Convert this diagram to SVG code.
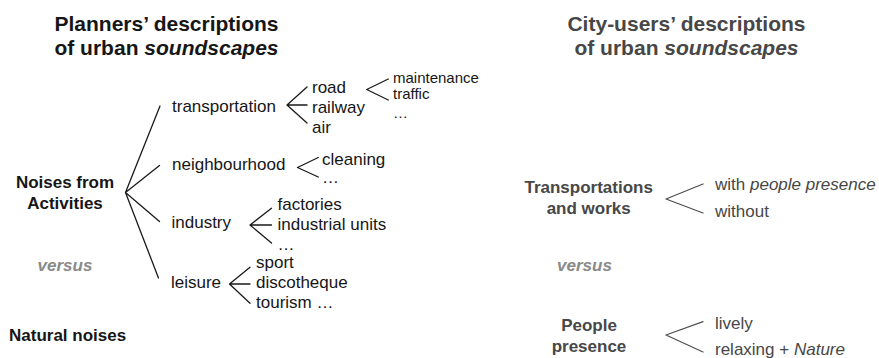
<svg xmlns="http://www.w3.org/2000/svg" width="879" height="358" viewBox="0 0 879 358">
<style>
text{font-family:"Liberation Sans",Arial,Helvetica,sans-serif;font-size:17px;fill:#161616}
.title{font-size:21px;font-weight:bold}
.b{font-weight:bold}
.sm{font-size:15px}
.vs{font-weight:bold;font-style:italic;fill:#8a8a8a}
.r text,text.r{fill:#474747}
.it{font-style:italic}
.mid{text-anchor:middle}
.ln{stroke:#1a1a1a;stroke-width:1.3;fill:none;stroke-linecap:round;stroke-linejoin:round}
.lnr{stroke:#4f4f4f;stroke-width:1.3;fill:none;stroke-linecap:round;stroke-linejoin:round}
</style>
<rect width="879" height="358" fill="#ffffff"/>
<g id="title-planners">
<text class="title mid" x="166.5" y="31">Planners&#8217; descriptions</text>
<text class="title mid" x="166.5" y="55">of urban <tspan class="it">soundscapes</tspan></text>
</g>
<g id="title-users" class="r">
<text class="title mid" x="686.5" y="31">City-users&#8217; descriptions</text>
<text class="title mid" x="686.5" y="55">of urban <tspan class="it">soundscapes</tspan></text>
</g>
<g id="connectors">
<path class="ln" d="M160,106 L125.5,192.5 L159.5,165.5 M125.5,192.5 L159.5,221.5 M125.5,192.5 L158.5,278"/>
<path class="ln" d="M307,87 L287,105 L307,123 M287,105 L307,105"/>
<path class="ln" d="M388.3,79 L366.7,89.5 L388.3,100"/>
<path class="ln" d="M318.3,157.5 L297.5,167.5 L318.3,177"/>
<path class="ln" d="M271.5,208.3 L250,225 L271.5,243 M250,225 L271.5,225"/>
<path class="ln" d="M250,267.3 L229.5,284 L250,303.3 M229.5,284 L250,284"/>
<path class="lnr" d="M703,184 L666,199 L703,213"/>
<path class="lnr" d="M703,321.7 L666,335 L703,352"/>
</g>
<g id="noises-activities">
<text class="b mid" x="65" y="188">Noises from</text>
<text class="b mid" x="65" y="208.5">Activities</text>
</g>
<g id="versus-left"><text class="vs mid" x="65" y="271">versus</text></g>
<g id="natural-noises"><text class="b" x="9" y="340.5">Natural noises</text></g>
<g id="transportation">
<text x="172" y="112">transportation</text>
<text x="312" y="93">road</text>
<text x="312" y="113">railway</text>
<text x="312" y="132.5">air</text>
</g>
<g id="road-detail">
<text class="sm" x="393" y="82.5">maintenance</text>
<text class="sm" x="393" y="98.5">traffic</text>
<text class="sm" x="393" y="118">…</text>
</g>
<g id="neighbourhood">
<text x="172" y="169.5">neighbourhood</text>
<text x="322" y="164.5">cleaning</text>
<text x="322" y="183">…</text>
</g>
<g id="industry">
<text x="171.5" y="227.5">industry</text>
<text x="277.5" y="210">factories</text>
<text x="277.5" y="230">industrial units</text>
<text x="277.5" y="250">…</text>
</g>
<g id="leisure">
<text x="171" y="288">leisure</text>
<text x="256" y="268">sport</text>
<text x="256" y="288">discotheque</text>
<text x="256" y="307.7">tourism …</text>
</g>
<g id="transportations-works" class="r">
<text class="b mid" x="588.7" y="192.7">Transportations</text>
<text class="b mid" x="588.7" y="214.3">and works</text>
<text x="715" y="189.5">with <tspan class="it">people presence</tspan></text>
<text x="715" y="216.5">without</text>
</g>
<g id="versus-right"><text class="vs mid" x="584.5" y="271">versus</text></g>
<g id="people-presence" class="r">
<text class="b mid" x="589" y="331">People</text>
<text class="b mid" x="589" y="351.5">presence</text>
<text x="715" y="329">lively</text>
<text x="715" y="355">relaxing + <tspan class="it">Nature</tspan></text>
</g>
</svg>
